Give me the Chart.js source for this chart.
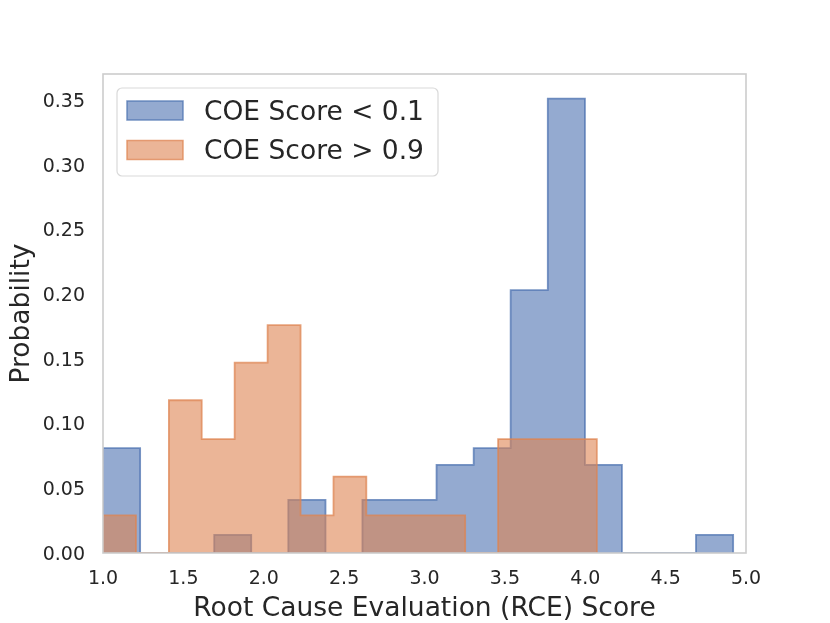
<!DOCTYPE html>
<html>
<head>
<meta charset="utf-8">
<script src="https://cdn.jsdelivr.net/npm/chart.js@4.4.1/dist/chart.umd.min.js"></script>
<style>
  html, body { margin: 0; padding: 0; background: #ffffff; }
  #wrap { width: 830px; height: 623px; }
</style>
</head>
<body>
<div id="wrap"><canvas id="histChart" width="830" height="623"></canvas></div>
<script>
// bin edges and probabilities
var lowEdges = [1.0, 1.231, 1.461, 1.692, 1.922, 2.153, 2.384, 2.614, 2.845,
  3.075, 3.306, 3.536, 3.767, 3.998, 4.228, 4.459, 4.689, 4.920];
var lowProb = [0.081, 0, 0, 0.014, 0, 0.041, 0, 0.041, 0.041,
  0.068, 0.081, 0.203, 0.351, 0.068, 0, 0, 0.014];

var highEdges = [1.0, 1.205, 1.410, 1.614, 1.819, 2.024, 2.229, 2.434, 2.638,
  2.843, 3.048, 3.253, 3.458, 3.662, 3.867, 4.072];
var highProb = [0.029, 0, 0.118, 0.088, 0.147, 0.176, 0.029, 0.059, 0.029,
  0.029, 0.029, 0, 0.088, 0.088, 0.088];

var seriesNames = ["COE Score < 0.1", "COE Score > 0.9"];
var xTicks = [1.0, 1.5, 2.0, 2.5, 3.0, 3.5, 4.0, 4.5, 5.0];
var yTicks = [0, 0.05, 0.10, 0.15, 0.20, 0.25, 0.30, 0.35];

var textColor = "#262626";
var fontName = "'DejaVu Sans', 'Liberation Sans', sans-serif";

// turn edges + heights into step points
function stepPoints(edges, probs) {
  var pts = [{ x: edges[0], y: 0 }];
  for (var i = 0; i < probs.length; i++) {
    pts.push({ x: edges[i], y: probs[i] });
  }
  pts.push({ x: edges[edges.length - 1], y: 0 });
  return pts;
}

var framePlugin = {
  id: "frame",
  afterDatasetsDraw: function (chart) {
    var a = chart.chartArea;
    var ctx = chart.ctx;
    ctx.save();
    ctx.strokeStyle = "#cccccc";
    ctx.lineWidth = 1.6;
    ctx.strokeRect(a.left, a.top, a.right - a.left, a.bottom - a.top);
    ctx.restore();
  }
};

var legendPlugin = {
  id: "boxLegend",
  afterDraw: function (chart) {
    var a = chart.chartArea;
    var ctx = chart.ctx;
    var x = a.left + 14, y = a.top + 14, w = 321, h = 88, r = 5;
    ctx.save();
    ctx.beginPath();
    ctx.moveTo(x + r, y);
    ctx.arcTo(x + w, y, x + w, y + h, r);
    ctx.arcTo(x + w, y + h, x, y + h, r);
    ctx.arcTo(x, y + h, x, y, r);
    ctx.arcTo(x, y, x + w, y, r);
    ctx.closePath();
    ctx.fillStyle = "rgba(255,255,255,0.8)";
    ctx.fill();
    ctx.strokeStyle = "#d9d9d9";
    ctx.lineWidth = 1.2;
    ctx.stroke();

    var ds = chart.data.datasets;
    for (var i = 0; i < ds.length; i++) {
      var py = y + 13 + i * 39.5;
      ctx.fillStyle = ds[i].backgroundColor;
      ctx.fillRect(x + 10, py, 56, 19);
      ctx.strokeStyle = ds[i].borderColor;
      ctx.lineWidth = 1.5;
      ctx.strokeRect(x + 10, py, 56, 19);
      ctx.fillStyle = textColor;
      ctx.font = "26.5px " + fontName;
      ctx.textBaseline = "middle";
      ctx.textAlign = "left";
      ctx.fillText(ds[i].label, x + 87, py + 12);
    }
    ctx.restore();
  }
};

var ctx = document.getElementById("histChart").getContext("2d");
var chart = new Chart(ctx, {
  type: "line",
  data: {
    datasets: [
      {
        label: seriesNames[0],
        data: stepPoints(lowEdges, lowProb),
        stepped: "before",
        fill: "origin",
        backgroundColor: "rgba(76,114,176,0.6)",
        borderColor: "rgba(76,114,176,0.75)",
        borderWidth: 1.8,
        pointRadius: 0,
        order: 2
      },
      {
        label: seriesNames[1],
        data: stepPoints(highEdges, highProb),
        stepped: "before",
        fill: "origin",
        backgroundColor: "rgba(221,132,82,0.6)",
        borderColor: "rgba(221,132,82,0.75)",
        borderWidth: 1.8,
        pointRadius: 0,
        order: 1
      }
    ]
  },
  options: {
    responsive: false,
    animation: false,
    devicePixelRatio: 1,
    layout: { padding: { top: 74, right: 84, left: 0, bottom: 0 } },
    plugins: {
      legend: { display: false },
      tooltip: { enabled: false }
    },
    scales: {
      x: {
        type: "linear",
        min: 1,
        max: 5,
        afterBuildTicks: function (scale) {
          scale.ticks = xTicks.map(function (v) { return { value: v }; });
        },
        afterFit: function (scale) { scale.height = 70; },
        ticks: {
          color: textColor,
          font: { family: fontName, size: 19 },
          padding: 15,
          maxRotation: 0,
          callback: function (v) { return Number(v).toFixed(1); }
        },
        grid: { display: false, drawTicks: false },
        border: { display: false },
        title: {
          display: true,
          text: "Root Cause Evaluation (RCE) Score",
          color: textColor,
          font: { family: fontName, size: 26.5, lineHeight: 1 },
          padding: { top: 0, bottom: 1 }
        }
      },
      y: {
        min: 0,
        max: 0.37,
        afterBuildTicks: function (scale) {
          scale.ticks = yTicks.map(function (v) { return { value: v }; });
        },
        afterFit: function (scale) { scale.width = 103; },
        ticks: {
          color: textColor,
          font: { family: fontName, size: 19 },
          padding: 18,
          labelOffset: 2,
          callback: function (v) { return Number(v).toFixed(2); }
        },
        grid: { display: false, drawTicks: false },
        border: { display: false },
        title: {
          display: true,
          text: "Probability",
          color: textColor,
          font: { family: fontName, size: 26.5 },
          padding: { top: 6, bottom: 0 }
        }
      }
    }
  },
  plugins: [framePlugin, legendPlugin]
});
</script>
</body>
</html>
